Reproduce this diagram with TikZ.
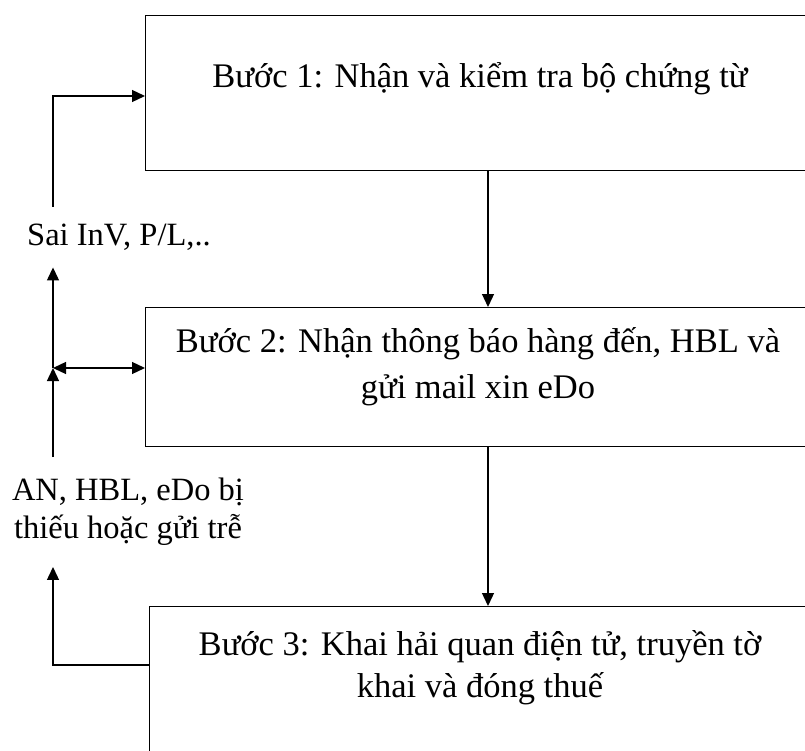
\documentclass[tikz,border=0pt]{standalone}
\usepackage{fontspec}
\setmainfont{Liberation Serif}
\usepackage{tikz}
\usetikzlibrary{arrows.meta, positioning, calc}

\tikzset{
    stepbox/.style={draw, line width=1.3pt, rectangle, anchor=north west},
    steptext/.style={align=center, font=\fontsize{34.5}{46}\selectfont, inner sep=0pt},
    looptext/.style={align=center, font=\fontsize{32.5}{38}\selectfont, inner sep=0pt},
    arr/.style={line width=1.3pt, -{Triangle[length=13pt, width=12pt]}},
    dblarr/.style={line width=1.3pt, {Triangle[length=13pt, width=12pt]}-{Triangle[length=13pt, width=12pt]}},
}

\begin{document}
\begin{tikzpicture}[x=1pt, y=-1pt]
        \clip (0,0) rectangle (805,751);

        % boxes
        \node[stepbox, minimum width=700pt, minimum height=155pt] (b1) at (145,15) {};
        \node[stepbox, minimum width=700pt, minimum height=139pt] (b2) at (145,307) {};
        \node[stepbox, minimum width=700pt, minimum height=200pt] (b3) at (149,606) {};

        \node[steptext] (t1) at (480,79) {Bước 1: Nhận và kiểm tra bộ chứng từ};
        \node[steptext] (t2) at (478,367) {Bước 2: Nhận thông báo hàng đến, HBL và\\gửi mail xin eDo};
        \node[steptext, font=\fontsize{34.5}{42}\selectfont] (t3) at (480,668) {Bước 3: Khai hải quan điện tử, truyền tờ\\khai và đóng thuế};

        % side labels
        \node[looptext, inner ysep=17pt] (s1) at (119,237) {Sai InV, P/L,..};
        \node[looptext, inner ysep=21pt] (s2) at (128,512) {AN, HBL, eDo bị\\thiếu hoặc gửi trễ};

        \coordinate (c1) at (488,0);
        \coordinate (j) at (53,368);
        \coordinate (in1) at (145,96);
        \coordinate (out3) at (149,665);

        % main flow
        \draw[arr] (b1.south -| c1) -- (b2.north -| c1);
        \draw[arr] (b2.south -| c1) -- (b3.north -| c1);

        % feedback
        \draw[arr] (s1.north -| j) |- (in1);
        \draw[arr] (j) -- (s1.south -| j);
        \draw[dblarr] (j) -- (b2.west |- j);
        \draw[arr] (s2.north -| j) -- (j);
        \draw[arr] (out3) -| (s2.south -| j);
\end{tikzpicture}
\end{document}
